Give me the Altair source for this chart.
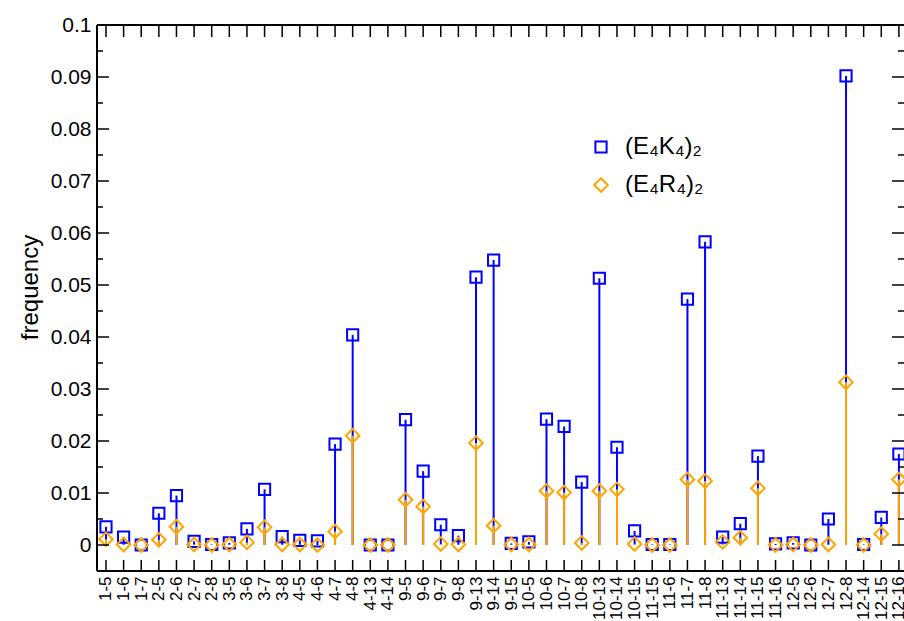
import altair as alt
import pandas as pd

pairs = ["1-5", "1-6", "1-7", "2-5", "2-6", "2-7", "2-8", "3-5", "3-6", "3-7", "3-8",
         "4-5", "4-6", "4-7", "4-8", "4-13", "4-14", "9-5", "9-6", "9-7", "9-8", "9-13",
         "9-14", "9-15", "10-5", "10-6", "10-7", "10-8", "10-13", "10-14", "10-15",
         "11-15", "11-6", "11-7", "11-8", "11-13", "11-14", "11-15", "11-16",
         "12-5", "12-6", "12-7", "12-8", "12-14", "12-15", "12-16"]

ek4 = [0.0035, 0.0015, 0.0, 0.0061, 0.0095, 0.0007, 0.0001, 0.0004, 0.0031, 0.0107, 0.0016,
       0.0009, 0.0008, 0.0194, 0.0404, 0.0, 0.0, 0.0241, 0.0142, 0.0039, 0.0018, 0.0515,
       0.0548, 0.0003, 0.0006, 0.0242, 0.0228, 0.0121, 0.0513, 0.0188, 0.0027,
       0.0001, 0.0001, 0.0473, 0.0583, 0.0015, 0.0041, 0.0171, 0.0002,
       0.0004, 0.0, 0.0050, 0.0902, 0.0001, 0.0053, 0.0175]

er4 = [0.0011, 0.0001, 0.0, 0.0010, 0.0035, 0.0001, 0.0, 0.0001, 0.0005, 0.0034, 0.0001,
       0.0001, 0.0, 0.0026, 0.0210, 0.0, 0.0, 0.0087, 0.0074, 0.0002, 0.0001, 0.0196,
       0.0037, 0.0001, 0.0001, 0.0104, 0.0101, 0.0004, 0.0104, 0.0107, 0.0002,
       0.0, 0.0, 0.0126, 0.0123, 0.0006, 0.0014, 0.0109, 0.0,
       0.0001, 0.0, 0.0001, 0.0313, 0.0, 0.0021, 0.0126]

series_names = ["(E\u2084K\u2084)\u2082", "(E\u2084R\u2084)\u2082"]
series_colors = ["#0000ff", "#ffa500"]
series_shapes = ["square", "diamond"]
series_sizes = [125, 185]

y_major = [0.0, 0.01, 0.02, 0.03, 0.04, 0.05, 0.06, 0.07, 0.08, 0.09, 0.1]
y_minor = [0.005, 0.015, 0.025, 0.035, 0.045, 0.055, 0.065, 0.075, 0.085, 0.095]

rows = []
for s, vals in zip(series_names, [ek4, er4]):
    for i, v in enumerate(vals):
        rows.append({"i": i, "pair": pairs[i], "series": s, "value": v, "base": 0.0})
df = pd.DataFrame(rows)

W, H = 807, 546
FONT = "Liberation Sans"

xscale = alt.Scale(domain=[-0.51, 45.29], nice=False, zero=False)
yscale = alt.Scale(domain=[-0.005, 0.1], nice=False, zero=False)
cscale = alt.Scale(domain=series_names, range=series_colors)
sscale = alt.Scale(domain=series_names, range=series_shapes)
zscale = alt.Scale(domain=series_names, range=series_sizes)

label_expr = "[" + ",".join("'" + p + "'" for p in pairs) + "][datum.value]"

x_axis = alt.Axis(values=list(range(len(pairs))), labelExpr=label_expr, labelAngle=-90,
                  labelFont=FONT, labelFontSize=17, labelColor="black", labelPadding=5,
                  ticks=False, domain=False, grid=False, title=None)
y_axis = alt.Axis(values=y_major, format=".2~f", labelFont=FONT, labelFontSize=21,
                  labelColor="black", labelPadding=6, ticks=False, domain=False, grid=False,
                  title="frequency", titleFont=FONT, titleFontSize=24, titleFontWeight="normal",
                  titleColor="black", titleX=-60, titleY=262, titleBaseline="alphabetic",
                  titleAngle=-90, titleAlign="center")

leg = alt.Legend(title=None, orient="none", legendX=492, legendY=110,
                 labelFont=FONT, labelFontSize=24, labelColor="black",
                 labelOffset=12, rowPadding=14, symbolStrokeWidth=2,
                 padding=0)

X = alt.X("i:Q", scale=xscale, axis=x_axis, title=None)
Y = alt.Y("value:Q", scale=yscale, axis=y_axis, title="frequency")

stems = alt.Chart(df).mark_rule(strokeWidth=2).encode(
    x=X, y=Y, y2="base:Q",
    color=alt.Color("series:N", scale=cscale, legend=leg),
)

points = alt.Chart(df).mark_point(filled=False, strokeWidth=2, opacity=1).encode(
    x=X, y=Y,
    color=alt.Color("series:N", scale=cscale, legend=leg),
    shape=alt.Shape("series:N", scale=sscale, legend=leg),
    size=alt.Size("series:N", scale=zscale, legend=leg),
)

xt = pd.DataFrame({"i": list(range(len(pairs)))})
ymaj = pd.DataFrame({"value": y_major})
ymin = pd.DataFrame({"value": y_minor})
one = pd.DataFrame({"a": [0]})

tick_style = dict(color="black", strokeWidth=1.5)

bottom_ticks = alt.Chart(xt).mark_rule(**tick_style).encode(
    x=X, y=alt.value(H), y2=alt.value(H - 11))
top_ticks = alt.Chart(xt).mark_rule(**tick_style).encode(
    x=X, y=alt.value(0), y2=alt.value(12))
left_major = alt.Chart(ymaj).mark_rule(**tick_style).encode(
    y=Y, x=alt.value(0), x2=alt.value(12))
left_minor = alt.Chart(ymin).mark_rule(**tick_style).encode(
    y=Y, x=alt.value(0), x2=alt.value(6))
right_major = alt.Chart(ymaj).mark_rule(**tick_style).encode(
    y=Y, x=alt.value(W), x2=alt.value(W - 12))
right_minor = alt.Chart(ymin).mark_rule(**tick_style).encode(
    y=Y, x=alt.value(W), x2=alt.value(W - 6))

border_style = dict(color="black", strokeWidth=2)
left_border = alt.Chart(one).mark_rule(**border_style).encode(
    x=alt.value(0), y=alt.value(0), y2=alt.value(H))
top_border = alt.Chart(one).mark_rule(**border_style).encode(
    x=alt.value(0), x2=alt.value(W), y=alt.value(0))
bottom_border = alt.Chart(one).mark_rule(**border_style).encode(
    x=alt.value(0), x2=alt.value(W), y=alt.value(H))

chart = alt.layer(
    stems, points, bottom_ticks, top_ticks, left_major, left_minor, right_major, right_minor,
    left_border, top_border, bottom_border
).properties(
    width=W, height=H,
    autosize=alt.AutoSizeParams(type="none"),
    padding={"left": 97, "top": 25, "right": 0, "bottom": 50},
).configure_view(stroke=None).configure(background="white")

chart.save("out.html", embed_options={"renderer": "svg", "actions": False})
